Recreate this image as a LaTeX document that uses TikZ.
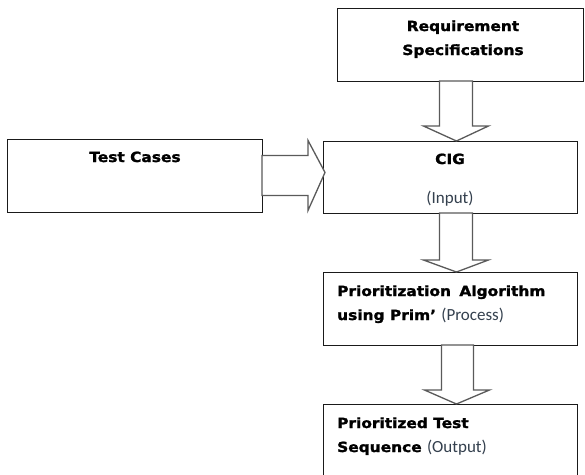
\documentclass[tikz,border=0pt]{standalone}
\usepackage{fontspec}
\setmainfont{Carlito}
\newfontfamily\headfont[FakeStretch=1.1,FakeBold=1.6]{DejaVu Sans}
\usetikzlibrary{calc}
\definecolor{Ink}{HTML}{1A1A1A}
\definecolor{Muted}{HTML}{5A5A5A}
\definecolor{Note}{HTML}{34404E}
\tikzset{
  stagebox/.style={draw=Ink,line width=0.9pt,fill=white,inner sep=0pt,anchor=north west},
  blockarrow/.style={draw=Muted,line width=1.3pt,fill=white,line join=miter},
  headtext/.style={font=\headfont\bfseries\fontsize{14}{16}\selectfont,text=black,inner sep=0pt,anchor=base},
  notetext/.style={font=\fontsize{17}{20}\selectfont,text=Note,inner sep=0pt,anchor=base}
}
\newcommand{\notepart}[1]{{\normalfont\fontsize{17}{20}\selectfont\color{Note}#1}}
\begin{document}
\begin{tikzpicture}[x=1pt,y=-1pt]
\clip (0,0) rectangle (585,474);
\fill[white] (0,0) rectangle (585,474);
% boxes
\node[stagebox,minimum width=246,minimum height=73] (req) at (337,8) {};
\node[stagebox,minimum width=254,minimum height=72] (cig) at (323,141) {};
\node[stagebox,minimum width=255,minimum height=73] (cases) at (7,139) {};
\node[stagebox,minimum width=254,minimum height=73] (prio) at (323,272) {};
\node[stagebox,minimum width=254,minimum height=90] (seq) at (323,404) {};
% texts
\node[headtext] (reqA) at (463,31) {Requirement};
\node[headtext] (reqB) at (463,55) {Specifications};
\node[headtext] (cigA) at (450,164) {CIG};
\node[notetext] (cigB) at (450,203) {(Input)};
\node[headtext] (casesA) at (135,162) {Test Cases};
\node[headtext,anchor=base west] (prioA) at (337,296) {Prioritization\hspace{0.6em}Algorithm};
\node[headtext,anchor=base west] (prioB) at (337,320) {using Prim’ \notepart{(Process)}};
\node[headtext,anchor=base west] (seqA) at (337,428) {Prioritized Test};
\node[headtext,anchor=base west] (seqB) at (337,452) {Sequence \notepart{(Output)}};
% block arrows
\coordinate (tip1) at ($(cig.north)+(6,0)$);
\draw[blockarrow] (tip1) -- ++(-33,-15) -- ++(16,0) -- ++(0,-45) -- ++(33,0) -- ++(0,45) -- ++(16,0) -- cycle;
\coordinate (tip2) at ($(prio.north)+(6,0)$);
\draw[blockarrow] (tip2) -- ++(-33,-12) -- ++(16,0) -- ++(0,-47) -- ++(33,0) -- ++(0,47) -- ++(16,0) -- cycle;
\coordinate (tip3) at ($(seq.north)+(6,0)$);
\draw[blockarrow] (tip3) -- ++(-32,-14) -- ++(17,0) -- ++(0,-45) -- ++(32,0) -- ++(0,45) -- ++(16,0) -- cycle;
\coordinate (tip4) at ($(cig.west)+(2,-5)$);
\draw[blockarrow] (tip4) -- ++(-17,-32) -- ++(0,15) -- ++(-46,0) -- ++(0,40) -- ++(46,0) -- ++(0,15) -- cycle;
\end{tikzpicture}
\end{document}
